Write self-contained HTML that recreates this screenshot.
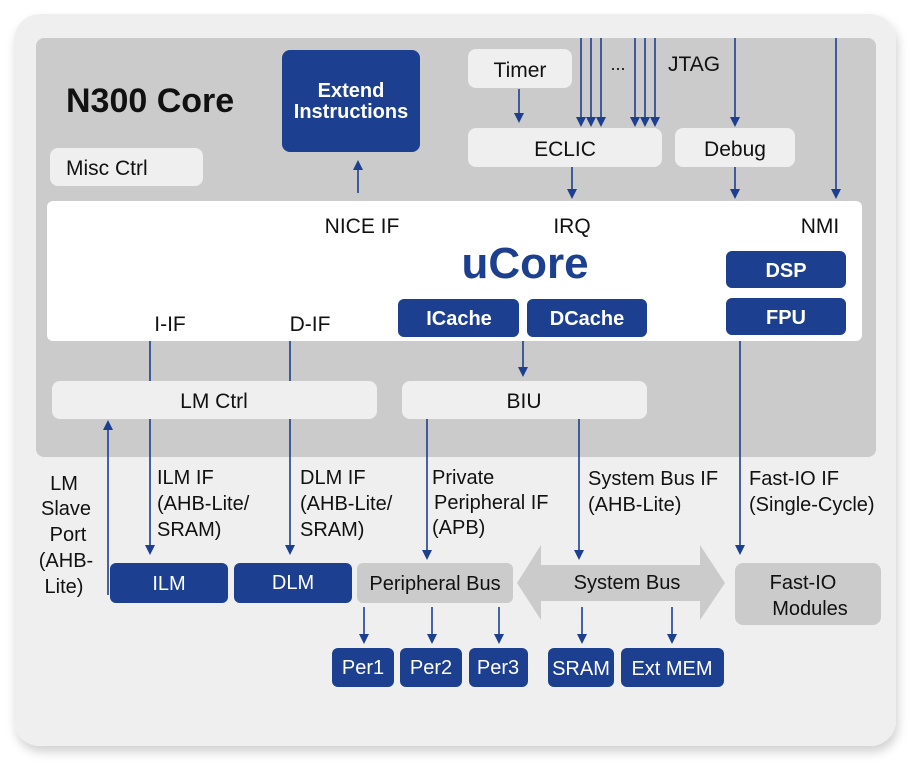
<!DOCTYPE html>
<html><head><meta charset="utf-8"><style>
html,body{margin:0;padding:0;background:#fff;}
svg{display:block;}
text{font-family:"Liberation Sans",sans-serif;}
</style></head><body>
<svg width="921" height="773" viewBox="0 0 921 773" xmlns="http://www.w3.org/2000/svg">
<defs>
<marker id="a" markerWidth="10" markerHeight="10" refX="5" refY="8" orient="auto" markerUnits="userSpaceOnUse" viewBox="0 0 10 10">
<path d="M0,1 L10,1 L5,9 Z" fill="#1d3f8f" transform="rotate(0)"/></marker>
<marker id="b" markerWidth="10" markerHeight="10" refX="5" refY="5" orient="auto-start-reverse" markerUnits="userSpaceOnUse" viewBox="0 0 10 10">
<path d="M0,0 L10,5 L0,10 Z" fill="#1d3f8f"/></marker>
<filter id="sh" x="-5%" y="-5%" width="110%" height="112%"><feDropShadow dx="2" dy="6" stdDeviation="5" flood-color="#000" flood-opacity="0.18"/></filter>
</defs>
<rect x="14" y="14" width="882" height="732" rx="26" fill="#efeff0" filter="url(#sh)"/>
<rect x="36" y="38" width="840" height="419" rx="8" fill="#cbcbcc"/>
<rect x="47" y="201" width="815" height="140" rx="6" fill="#fff"/>

<text x="66" y="112" font-size="34" font-weight="bold" fill="#111">N300 Core</text>
<rect x="282" y="50" width="138" height="102" rx="8" fill="#1d3f8f"/>
<text x="351" y="97" font-size="20" font-weight="bold" fill="#fff" text-anchor="middle">Extend</text>
<text x="351" y="118" font-size="20" font-weight="bold" fill="#fff" text-anchor="middle">Instructions</text>
<rect x="50" y="148" width="153" height="38" rx="8" fill="#efeff0"/>
<text x="66" y="175" font-size="21" fill="#111">Misc Ctrl</text>

<rect x="468" y="49" width="104" height="39" rx="8" fill="#efeff0"/>
<text x="520" y="77" font-size="21" fill="#111" text-anchor="middle">Timer</text>
<rect x="468" y="128" width="194" height="39" rx="8" fill="#efeff0"/>
<text x="565" y="156" font-size="21" fill="#111" text-anchor="middle">ECLIC</text>
<rect x="675" y="128" width="120" height="39" rx="8" fill="#efeff0"/>
<text x="735" y="156" font-size="21" fill="#111" text-anchor="middle">Debug</text>
<text x="618" y="70" font-size="18" fill="#111" text-anchor="middle">...</text>
<text x="668" y="71" font-size="21" fill="#111">JTAG</text>

<g stroke="#1d3f8f" stroke-width="1.6" fill="none">
<line x1="581" y1="38" x2="581" y2="122" marker-end="url(#b)"/>
<line x1="591" y1="38" x2="591" y2="122" marker-end="url(#b)"/>
<line x1="601" y1="38" x2="601" y2="122" marker-end="url(#b)"/>
<line x1="635" y1="38" x2="635" y2="122" marker-end="url(#b)"/>
<line x1="645" y1="38" x2="645" y2="122" marker-end="url(#b)"/>
<line x1="655" y1="38" x2="655" y2="122" marker-end="url(#b)"/>
<line x1="735" y1="38" x2="735" y2="122" marker-end="url(#b)"/>
<line x1="836" y1="38" x2="836" y2="194" marker-end="url(#b)"/>
<line x1="519" y1="89" x2="519" y2="118" marker-end="url(#b)"/>
<line x1="572" y1="167" x2="572" y2="194" marker-end="url(#b)"/>
<line x1="735" y1="167" x2="735" y2="194" marker-end="url(#b)"/>
<line x1="358" y1="193" x2="358" y2="165" marker-end="url(#b)"/>
<line x1="523" y1="341" x2="523" y2="372" marker-end="url(#b)"/>
<line x1="150" y1="341" x2="150" y2="550" marker-end="url(#b)"/>
<line x1="290" y1="341" x2="290" y2="550" marker-end="url(#b)"/>
<line x1="427" y1="419" x2="427" y2="555" marker-end="url(#b)"/>
<line x1="579" y1="419" x2="579" y2="555" marker-end="url(#b)"/>
<line x1="740" y1="341" x2="740" y2="550" marker-end="url(#b)"/>
<line x1="108" y1="595" x2="108" y2="425" marker-end="url(#b)"/>
<line x1="364" y1="607" x2="364" y2="639" marker-end="url(#b)"/>
<line x1="432" y1="607" x2="432" y2="639" marker-end="url(#b)"/>
<line x1="499" y1="607" x2="499" y2="639" marker-end="url(#b)"/>
<line x1="582" y1="607" x2="582" y2="639" marker-end="url(#b)"/>
<line x1="672" y1="607" x2="672" y2="639" marker-end="url(#b)"/>
</g>

<text x="362" y="233" font-size="21" fill="#111" text-anchor="middle">NICE IF</text>
<text x="572" y="233" font-size="21" fill="#111" text-anchor="middle">IRQ</text>
<text x="820" y="233" font-size="21" fill="#111" text-anchor="middle">NMI</text>
<text x="525" y="278" font-size="44" font-weight="bold" fill="#1d3f8f" text-anchor="middle">uCore</text>
<text x="170" y="331" font-size="21" fill="#111" text-anchor="middle">I-IF</text>
<text x="310" y="331" font-size="21" fill="#111" text-anchor="middle">D-IF</text>

<rect x="726" y="251" width="120" height="37" rx="6" fill="#1d3f8f"/>
<text x="786" y="277" font-size="20" font-weight="bold" fill="#fff" text-anchor="middle">DSP</text>
<rect x="726" y="298" width="120" height="37" rx="6" fill="#1d3f8f"/>
<text x="786" y="324" font-size="20" font-weight="bold" fill="#fff" text-anchor="middle">FPU</text>
<rect x="398" y="299" width="121" height="38" rx="6" fill="#1d3f8f"/>
<text x="459" y="325" font-size="20" font-weight="bold" fill="#fff" text-anchor="middle">ICache</text>
<rect x="527" y="299" width="120" height="38" rx="6" fill="#1d3f8f"/>
<text x="587" y="325" font-size="20" font-weight="bold" fill="#fff" text-anchor="middle">DCache</text>

<rect x="52" y="381" width="325" height="38" rx="8" fill="#efeff0"/>
<text x="214" y="408" font-size="21" fill="#111" text-anchor="middle">LM Ctrl</text>
<rect x="402" y="381" width="245" height="38" rx="8" fill="#efeff0"/>
<text x="524" y="408" font-size="21" fill="#111" text-anchor="middle">BIU</text>

<g font-size="20" fill="#111">
<text x="64" y="490" text-anchor="middle">LM</text>
<text x="66" y="515" text-anchor="middle">Slave</text>
<text x="68" y="541" text-anchor="middle">Port</text>
<text x="66" y="567" text-anchor="middle">(AHB-</text>
<text x="64" y="593" text-anchor="middle">Lite)</text>
<text x="157" y="484">ILM IF</text>
<text x="157" y="510">(AHB-Lite/</text>
<text x="157" y="536">SRAM)</text>
<text x="300" y="484">DLM IF</text>
<text x="300" y="510">(AHB-Lite/</text>
<text x="300" y="536">SRAM)</text>
<text x="432" y="484">Private</text>
<text x="434" y="509">Peripheral IF</text>
<text x="432" y="534">(APB)</text>
<text x="588" y="485">System Bus IF</text>
<text x="588" y="511">(AHB-Lite)</text>
<text x="749" y="485">Fast-IO IF</text>
<text x="749" y="511">(Single-Cycle)</text>
</g>

<rect x="110" y="563" width="118" height="40" rx="6" fill="#1d3f8f"/>
<text x="169" y="590" font-size="20" fill="#fff" text-anchor="middle">ILM</text>
<rect x="234" y="563" width="118" height="40" rx="6" fill="#1d3f8f"/>
<text x="293" y="589" font-size="20" fill="#fff" text-anchor="middle">DLM</text>
<rect x="357" y="563" width="156" height="40" rx="6" fill="#cbcbcc"/>
<text x="435" y="590" font-size="20" fill="#111" text-anchor="middle">Peripheral Bus</text>
<path d="M517,583 L541,545 L541,565 L700,565 L700,545 L725,583 L700,620 L700,601 L541,601 L541,620 Z" fill="#cbcbcc"/>
<text x="627" y="589" font-size="20" fill="#111" text-anchor="middle">System Bus</text>
<rect x="735" y="563" width="146" height="62" rx="8" fill="#cbcbcc"/>
<text x="803" y="589" font-size="20" fill="#111" text-anchor="middle">Fast-IO</text>
<text x="810" y="615" font-size="20" fill="#111" text-anchor="middle">Modules</text>

<g font-size="20" fill="#fff" text-anchor="middle">
<rect x="332" y="648" width="62" height="39" rx="6" fill="#1d3f8f"/><text x="363" y="674">Per1</text>
<rect x="400" y="648" width="62" height="39" rx="6" fill="#1d3f8f"/><text x="431" y="674">Per2</text>
<rect x="469" y="648" width="59" height="39" rx="6" fill="#1d3f8f"/><text x="498" y="674">Per3</text>
<rect x="548" y="648" width="66" height="39" rx="6" fill="#1d3f8f"/><text x="581" y="675">SRAM</text>
<rect x="621" y="648" width="103" height="39" rx="6" fill="#1d3f8f"/><text x="672" y="675">Ext MEM</text>
</g>
</svg>
</body></html>
